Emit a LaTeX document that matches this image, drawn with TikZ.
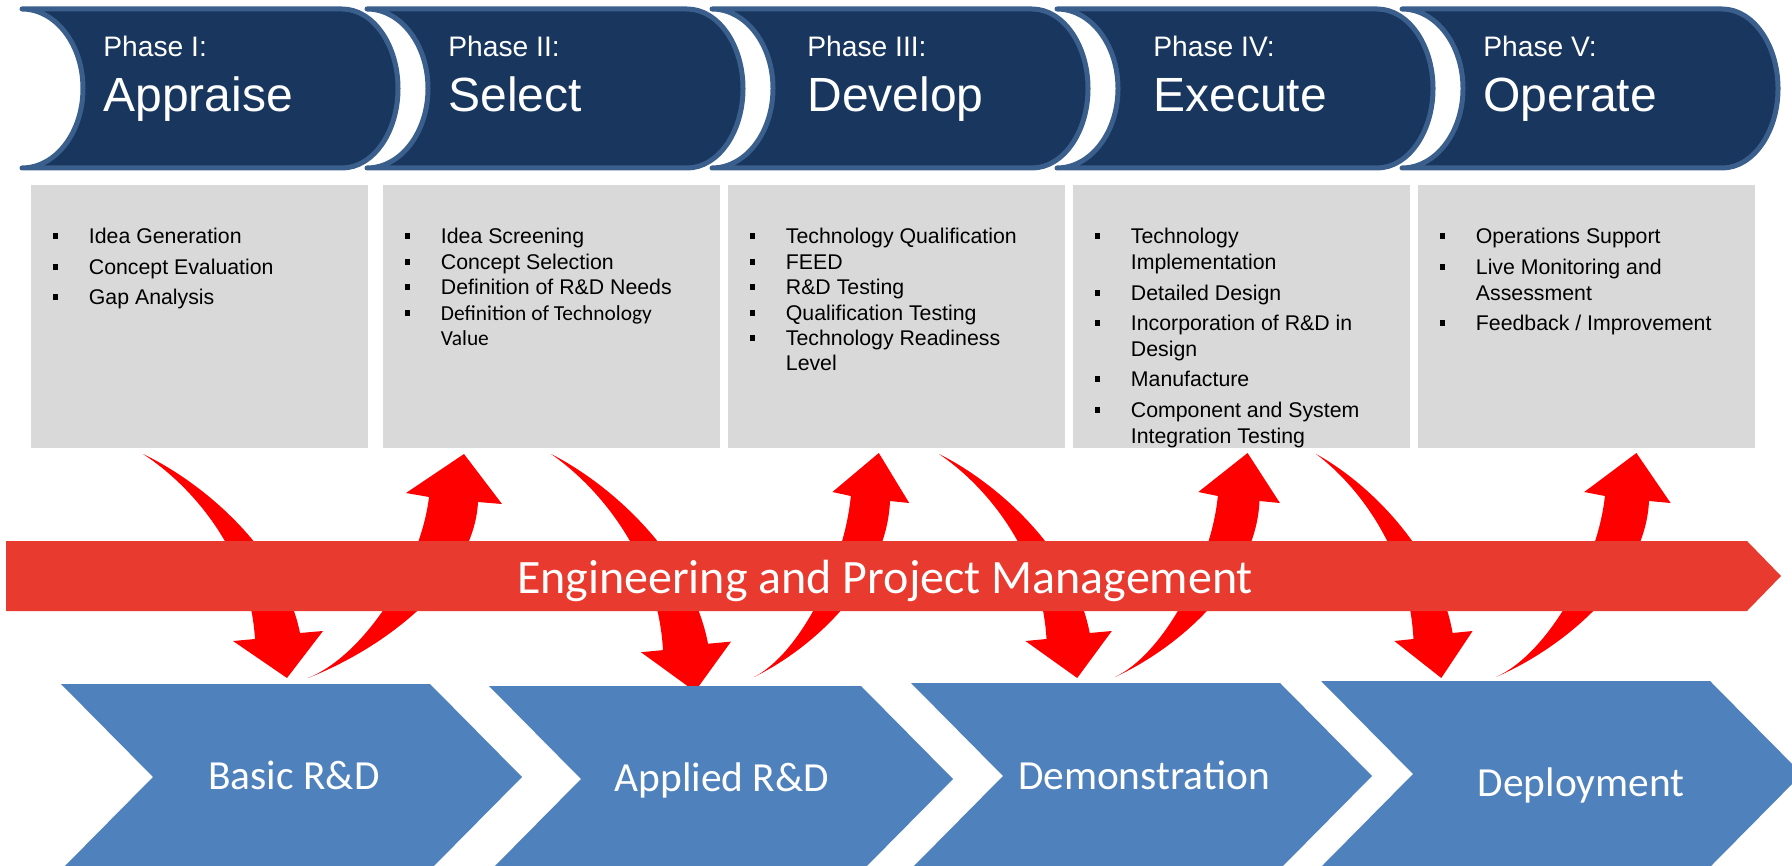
\documentclass[tikz,border=0pt]{standalone}
\usepackage{fontspec}
\setmainfont{Liberation Sans}
\newfontfamily\calibri{Carlito}
\definecolor{phasefill}{RGB}{24,54,94}
\definecolor{phaseline}{RGB}{58,95,140}
\definecolor{boxgray}{RGB}{217,217,217}
\definecolor{barred}{RGB}{232,58,46}
\definecolor{chevblue}{RGB}{79,129,189}

\tikzset{
  phase/.style={fill=phasefill,draw=phaseline,line width=2.5pt,line join=round,line cap=round},
  phasenum/.style={anchor=base west,inner sep=0pt,text=white,font=\fontsize{14.1}{16}\selectfont},
  phasename/.style={anchor=base west,inner sep=0pt,text=white,font=\fontsize{24}{28}\selectfont},
  graybox/.style={fill=boxgray,anchor=north west,inner sep=0pt,minimum width=168.5pt,minimum height=131.5pt},
  itemtxt/.style={anchor=base west,inner sep=0pt,font=\fontsize{10.65}{12}\selectfont},
  calitxt/.style={anchor=base west,inner sep=0pt,font=\calibri\fontsize{10.7}{12}\selectfont},
  bartxt/.style={anchor=base,inner sep=0pt,text=white,font=\calibri\fontsize{24}{28}\selectfont},
  chevtxt/.style={anchor=base,inner sep=0pt,text=white,font=\calibri\fontsize{20.7}{24}\selectfont},
  pics/dnarrow/.style={code={
    \fill[red] (0,0) .. controls (63,30) and (141,99) .. (157,179) -- (180,177) -- (144,224)
      -- (90,187) -- (112,185) .. controls (107,101) and (52,34) .. (0,0) -- cycle;}},
  pics/uparrow/.style={code={
    \fill[red] (0,0) .. controls (77,-30) and (166,-98) .. (170,-176) -- (194,-174) -- (156,-224)
      -- (98,-185) -- (121,-181) .. controls (113,-112) and (57,-23) .. (0,0) -- cycle;}},
}

% header with hollow left side and round right side
\newcommand\phaseshape[1]{\draw[phase] (#1,9) -- (#1+320,9)
  arc[start angle=-90,end angle=90,x radius=56,y radius=79.5] -- (#1,168)
  arc[start angle=90,end angle=-90,x radius=61,y radius=79.5] -- cycle;}
% chevron: left x, top y, length of top edge
\newcommand\chev[3]{\fill[chevblue] (#1,#2) -- (#1+#3,#2) -- (#1+#3+92,#2+93) -- (#1+#3,#2+186)
  -- (#1,#2+186) -- (#1+92,#2+93) -- cycle;}
% bullet line: name, box left, baseline, text
\newcommand\itm[4]{\fill (#2+21.5,#3-10.5) rectangle (#2+26.5,#3-4.5);
  \node[itemtxt] (#1) at (#2+57.5,#3) {#4};}
\newcommand\cnt[4]{\node[itemtxt] (#1) at (#2+57.5,#3) {#4};}

\begin{document}
\begin{tikzpicture}[x=0.5pt,y=-0.5pt]
\useasboundingbox (0,0) rectangle (1792,866);
\clip (0,0) rectangle (1792,866);

% phases
\foreach \x in {22,367,712,1057,1402} {\phaseshape{\x}}
\node[phasenum] (p1) at (103,57) {Phase I:};
\node[phasename] (n1) at (103,112) {Appraise};
\node[phasenum] (p2) at (448,57) {Phase II:};
\node[phasename] (n2) at (448,112) {Select};
\node[phasenum] (p3) at (807,57) {Phase III:};
\node[phasename] (n3) at (807,112) {Develop};
\node[phasenum] (p4) at (1153,57) {Phase IV:};
\node[phasename] (n4) at (1153,112) {Execute};
\node[phasenum] (p5) at (1483,57) {Phase V:};
\node[phasename] (n5) at (1483,112) {Operate};

% activity boxes
\node[graybox] (b1) at (31,185) {};
\node[graybox] (b2) at (383,185) {};
\node[graybox] (b3) at (728,185) {};
\node[graybox] (b4) at (1073,185) {};
\node[graybox] (b5) at (1418,185) {};

\itm{a1}{31}{243.5}{Idea Generation}
\itm{a2}{31}{274.5}{Concept Evaluation}
\itm{a3}{31}{304.5}{Gap Analysis}

\itm{s1}{383}{243.5}{Idea Screening}
\itm{s2}{383}{269.5}{Concept Selection}
\itm{s3}{383}{294.5}{Definition of R\&D Needs}
\fill (383+21.5,310) rectangle (383+26.5,316);
\node[calitxt] (s4) at (383+57.5,320.5) {Definition of Technology};
\node[calitxt] (s5) at (383+57.5,345.5) {Value};

\itm{d1}{728}{243.5}{Technology Qualification}
\itm{d2}{728}{269.5}{FEED}
\itm{d3}{728}{294.5}{R\&D Testing}
\itm{d4}{728}{320.5}{Qualification Testing}
\itm{d5}{728}{345.5}{Technology Readiness}
\cnt{d6}{728}{370.5}{Level}

\itm{e1}{1073}{243.5}{Technology}
\cnt{e2}{1073}{269.5}{Implementation}
\itm{e3}{1073}{300.5}{Detailed Design}
\itm{e4}{1073}{330.5}{Incorporation of R\&D in}
\cnt{e5}{1073}{356.5}{Design}
\itm{e6}{1073}{386.5}{Manufacture}
\itm{e7}{1073}{417.5}{Component and System}
\cnt{e8}{1073}{443.5}{Integration Testing}

\itm{o1}{1418}{243.5}{Operations Support}
\itm{o2}{1418}{274.5}{Live Monitoring and}
\cnt{o3}{1418}{300.5}{Assessment}
\itm{o4}{1418}{330.5}{Feedback / Improvement}

% red curved arrows
\pic at (143,454) {dnarrow};
\pic at (308,678) {uparrow};
\pic[yscale=1.06] at (551,454) {dnarrow};
\pic[xscale=0.8] at (754,677) {uparrow};
\pic[xscale=0.96] at (939,454) {dnarrow};
\pic[xscale=0.85] at (1115,677) {uparrow};
\pic[xscale=0.87] at (1316,454) {dnarrow};
\pic[xscale=0.9] at (1496,677) {uparrow};

% management bar
\fill[barred] (6,541) -- (1747,541) -- (1781,576) -- (1747,611) -- (6,611) -- cycle;
\node[bartxt] (epm) at (885,593) {Engineering and Project Management};

% stages
\chev{61}{684}{369}
\chev{489}{686}{372}
\chev{911}{683}{369}
\chev{1321}{681}{389}
\node[chevtxt] (c1) at (294,789) {Basic R\&D};
\node[chevtxt] (c2) at (722,791) {Applied R\&D};
\node[chevtxt] (c3) at (1144,789) {Demonstration};
\node[chevtxt] (c4) at (1581,796) {Deployment};
\end{tikzpicture}
\end{document}
